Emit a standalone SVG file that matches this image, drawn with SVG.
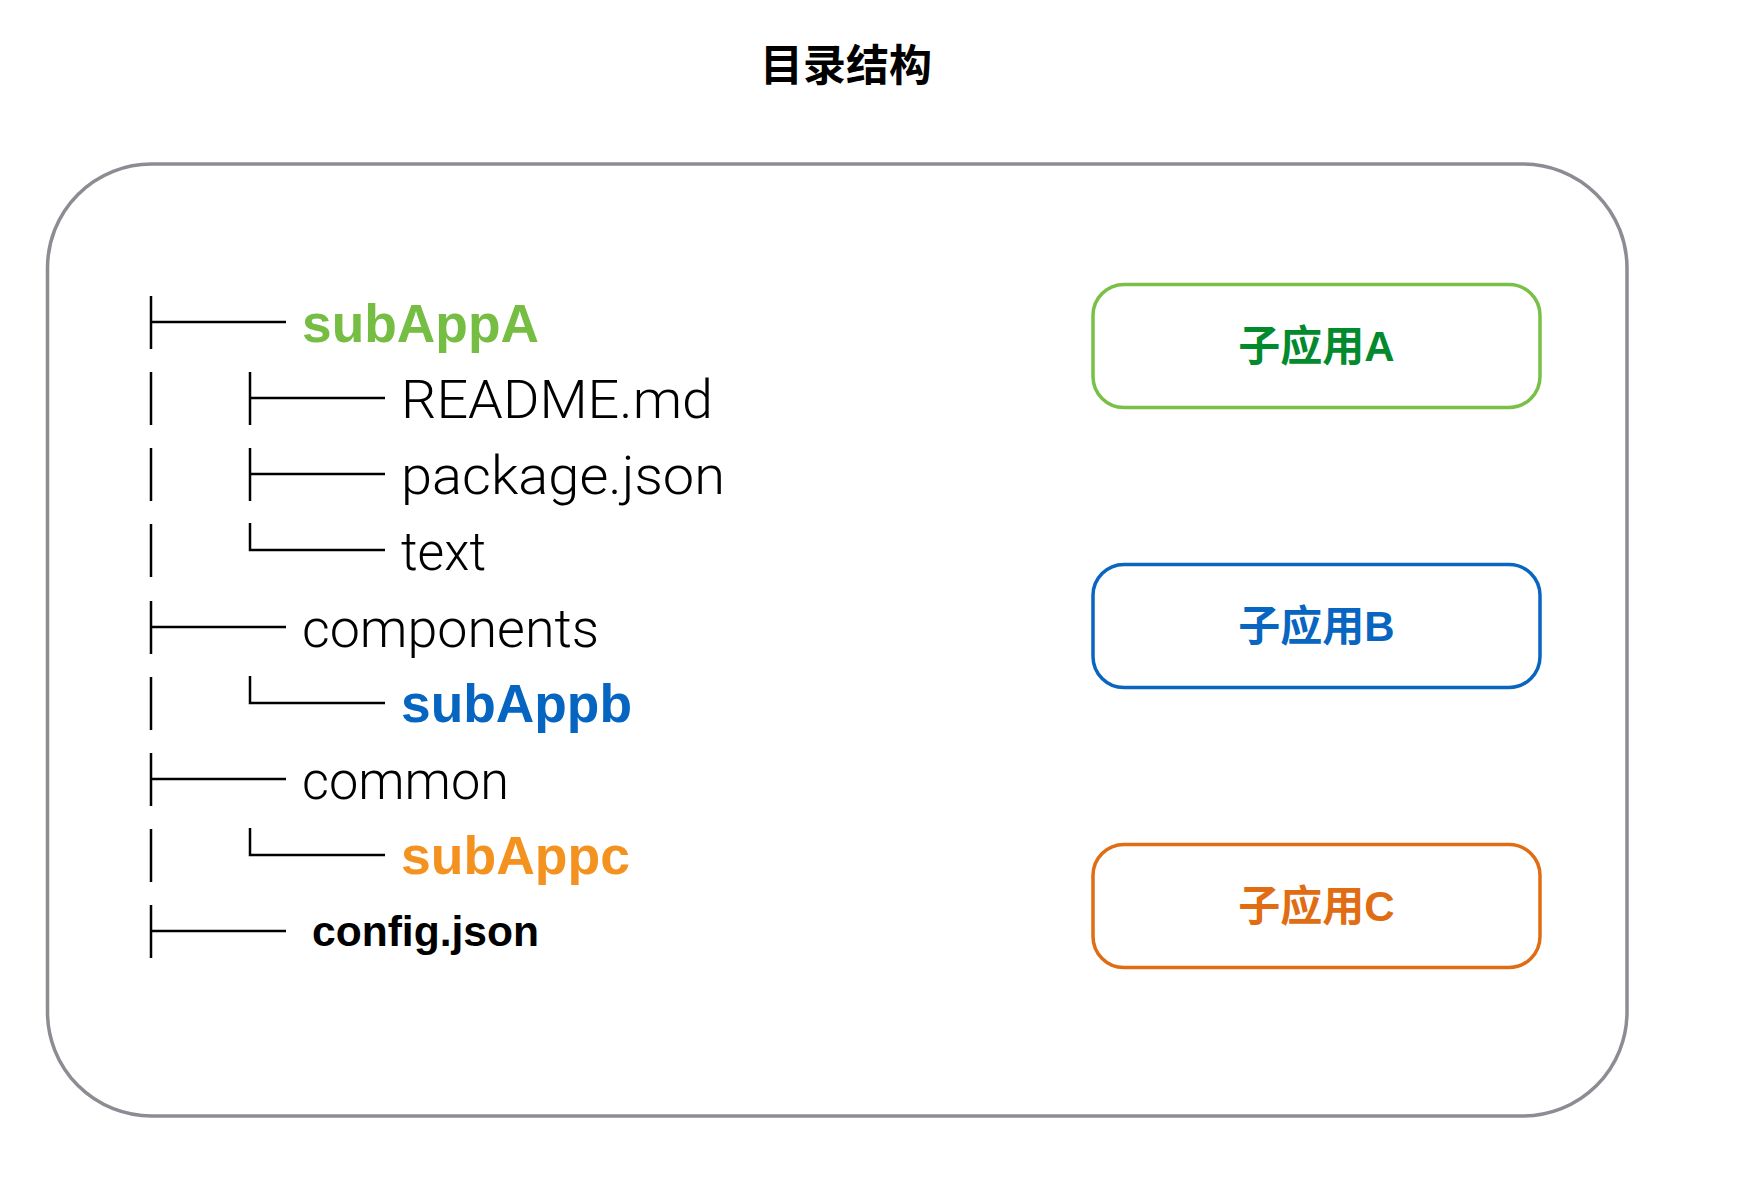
<svg xmlns="http://www.w3.org/2000/svg" width="1760" height="1194" viewBox="0 0 1760 1194">
<style>
.bg{fill:#ffffff}
.frame{fill:none;stroke:#8b8d92;stroke-width:3.5}
.tree{fill:none;stroke:#000000;stroke-width:2.5;stroke-linecap:butt}
.title{font-family:"Noto Sans CJK SC","Liberation Sans",sans-serif;font-weight:700;font-size:43px;fill:#000000}
.light{font-family:Roboto,"Liberation Sans",sans-serif;font-weight:300;font-size:54px;fill:#000000}
.bold{font-family:"Liberation Sans",Arial,sans-serif;font-weight:700;font-size:53px}
.cfg{font-family:"Liberation Sans",Arial,sans-serif;font-weight:700;font-size:42.5px;fill:#000000}
.box{fill:#ffffff;stroke-width:3.5}
.boxtext{font-family:"Liberation Sans","Noto Sans CJK SC",sans-serif;font-weight:700;font-size:42px;text-anchor:middle}
</style>
<rect class="bg" x="0" y="0" width="1760" height="1194"/>
<g id="title"><text class="title" x="846" y="81" text-anchor="middle">目录结构</text></g>
<g id="frame"><rect class="frame" x="47.5" y="164" width="1579.5" height="952" rx="104" ry="104"/></g>
<g id="connectors">
<path class="tree" d="M151 296 V349 M151 322 H286"/>
<path class="tree" d="M151 372 V425"/>
<path class="tree" d="M250 372 V425 M250 398 H385"/>
<path class="tree" d="M151 448 V501"/>
<path class="tree" d="M250 448 V501 M250 474 H385"/>
<path class="tree" d="M151 524 V577"/>
<path class="tree" d="M250 523 V550 H385"/>
<path class="tree" d="M151 601 V654 M151 627 H286"/>
<path class="tree" d="M151 677 V730"/>
<path class="tree" d="M250 676 V703 H385"/>
<path class="tree" d="M151 753 V806 M151 779 H286"/>
<path class="tree" d="M151 829 V882"/>
<path class="tree" d="M250 828 V855 H385"/>
<path class="tree" d="M151 905 V958 M151 931 H286"/>
</g>
<g id="node-subAppA"><text class="bold" x="302" y="342" fill="#76bd43" textLength="237" lengthAdjust="spacingAndGlyphs">subAppA</text></g>
<g id="node-readme"><text class="light" x="401" y="418" textLength="312" lengthAdjust="spacingAndGlyphs">README.md</text></g>
<g id="node-package"><text class="light" x="401" y="494" textLength="324" lengthAdjust="spacingAndGlyphs">package.json</text></g>
<g id="node-text"><text class="light" x="401" y="570" textLength="85" lengthAdjust="spacingAndGlyphs">text</text></g>
<g id="node-components"><text class="light" x="302" y="647" textLength="297" lengthAdjust="spacingAndGlyphs">components</text></g>
<g id="node-subAppb"><text class="bold" x="401" y="722" fill="#0565c1" textLength="231" lengthAdjust="spacingAndGlyphs">subAppb</text></g>
<g id="node-common"><text class="light" x="302" y="799" textLength="207" lengthAdjust="spacingAndGlyphs">common</text></g>
<g id="node-subAppc"><text class="bold" x="401" y="874" fill="#f3921f" textLength="229" lengthAdjust="spacingAndGlyphs">subAppc</text></g>
<g id="node-config"><text class="cfg" x="312" y="946" textLength="227" lengthAdjust="spacingAndGlyphs">config.json</text></g>
<g id="box-A"><rect class="box" x="1093" y="284.5" width="447" height="123" rx="31" ry="31" stroke="#78c046"/><text class="boxtext" x="1316.5" y="361" fill="#038a2f">子应用A</text></g>
<g id="box-B"><rect class="box" x="1093" y="564.5" width="447" height="123" rx="31" ry="31" stroke="#0866c0"/><text class="boxtext" x="1316.5" y="641" fill="#0866c0">子应用B</text></g>
<g id="box-C"><rect class="box" x="1093" y="844.5" width="447" height="123" rx="31" ry="31" stroke="#e06d13"/><text class="boxtext" x="1316.5" y="921" fill="#e06d13">子应用C</text></g>
</svg>
